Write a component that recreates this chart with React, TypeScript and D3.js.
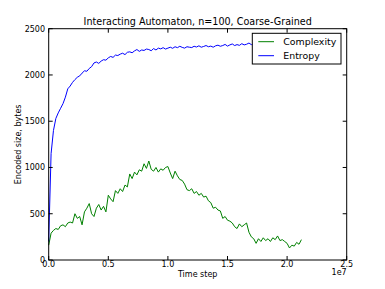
import React from "react";
import * as d3 from "d3";

const STEP = 0.02; // time step between samples, in units of 1e7
const complexity: number[] = [
  160, 290, 320, 340, 330, 370, 380, 360, 400, 410,
  400, 500, 450, 470, 380, 520, 560, 610, 500, 470,
  560, 600, 540, 580, 520, 700, 660, 630, 750, 720,
  770, 740, 810, 790, 930, 880, 950, 920, 975, 960,
  1040, 990, 1070, 980, 960, 1000, 950, 985, 970, 1000,
  1010, 940, 880, 960, 910, 870, 860, 820, 760, 750,
  770, 720, 740, 700, 720, 680, 690, 640, 620, 560,
  570, 540, 530, 450, 470, 430, 420, 400, 360, 340,
  390, 360, 380, 400, 300, 250, 230, 180, 230, 200,
  240, 210, 230, 200, 240, 220, 260, 210, 220, 200,
  180, 130, 160, 150, 190, 170, 220,
];
const entropy: number[] = [
  200, 1150, 1400, 1530, 1590, 1640, 1690, 1760, 1850, 1880,
  1920, 1950, 1975, 1990, 2020, 2045, 2040, 2070, 2090, 2130,
  2140, 2125, 2150, 2165, 2160, 2185, 2200, 2190, 2215, 2210,
  2225, 2235, 2220, 2245, 2250, 2240, 2260, 2275, 2255, 2270,
  2265, 2280, 2275, 2262, 2285, 2270, 2290, 2282, 2295, 2280,
  2290, 2300, 2288, 2305, 2295, 2310, 2298, 2290, 2305, 2300,
  2296, 2310, 2302, 2315, 2300, 2308, 2318, 2305, 2312, 2300,
  2315, 2322, 2310, 2318, 2330, 2312, 2325, 2335, 2318, 2328,
  2320, 2338, 2325, 2332, 2345, 2328, 2336, 2330, 2342, 2335,
  2340, 2332, 2345, 2338, 2350, 2340, 2335, 2348, 2342, 2350,
  2338, 2352, 2345, 2350, 2342, 2355, 2348,
];
const xTicks = [0, 0.5, 1.0, 1.5, 2.0, 2.5];
const xTickLabels = ["0.0", "0.5", "1.0", "1.5", "2.0", "2.5"];
const yTicks = [0, 500, 1000, 1500, 2000, 2500];
const seriesNames = ["Complexity", "Entropy"];
const seriesColors = ["#008000", "#0000ff"];

const W = 385, H = 289;
const L = 48.7, R = 346.7, T = 28.7, B = 260;
const FONT = "DejaVu Sans, sans-serif";

export default function App() {
  const x = d3.scaleLinear().domain([0, 2.5]).range([L, R]);
  const y = d3.scaleLinear().domain([0, 2500]).range([B, T]);
  const line = d3
    .line<number>()
    .x((_, i) => x(i * STEP))
    .y((d) => y(d));
  const series = [complexity, entropy];
  const tl = 4;
  return (
    <svg
      width={W}
      height={H}
      style={{ position: "absolute", left: 0, top: 0, background: "#fff" }}
      fontFamily={FONT}
    >
      <rect x={0} y={0} width={W} height={H} fill="#fff" />
      {series.map((s, k) => (
        <path key={k} d={line(s) || ""} fill="none" stroke={seriesColors[k]} strokeWidth={1} />
      ))}
      <rect x={L} y={T} width={R - L} height={B - T} fill="none" stroke="#000" strokeWidth={1} />
      {xTicks.map((t, i) => (
        <g key={"x" + i}>
          <line x1={x(t)} x2={x(t)} y1={B} y2={B - tl} stroke="#000" />
          <line x1={x(t)} x2={x(t)} y1={T} y2={T + tl} stroke="#000" />
          <text x={x(t)} y={267} fontSize={8} textAnchor="middle" fill="#000">
            {xTickLabels[i]}
          </text>
        </g>
      ))}
      {yTicks.map((t, i) => (
        <g key={"y" + i}>
          <line x1={L} x2={L + tl} y1={y(t)} y2={y(t)} stroke="#000" />
          <line x1={R} x2={R - tl} y1={y(t)} y2={y(t)} stroke="#000" />
          <text x={45} y={y(t) + 3} fontSize={8} textAnchor="end" fill="#000">
            {t}
          </text>
        </g>
      ))}
      <text x={(L + R) / 2} y={25} fontSize={9.6} textAnchor="middle" fill="#000">
        Interacting Automaton, n=100, Coarse-Grained
      </text>
      <text x={(L + R) / 2} y={277} fontSize={8} textAnchor="middle" fill="#000">
        Time step
      </text>
      <text x={R} y={275} fontSize={8} textAnchor="end" fill="#000">
        1e7
      </text>
      <text
        transform={`translate(21,${(T + B) / 2}) rotate(-90)`}
        fontSize={8}
        textAnchor="middle"
        fill="#000"
      >
        Encoded size, bytes
      </text>
      <g>
        <rect x={252.3} y={33.3} width={88.7} height={30.7} fill="#fff" stroke="#000" strokeWidth={1} />
        {seriesNames.map((n, k) => (
          <g key={n}>
            <line x1={258.3} x2={274} y1={41.7 + k * 14} y2={41.7 + k * 14} stroke={seriesColors[k]} />
            <text x={283.3} y={45 + k * 14} fontSize={9.4} fill="#000">
              {n}
            </text>
          </g>
        ))}
      </g>
    </svg>
  );
}
